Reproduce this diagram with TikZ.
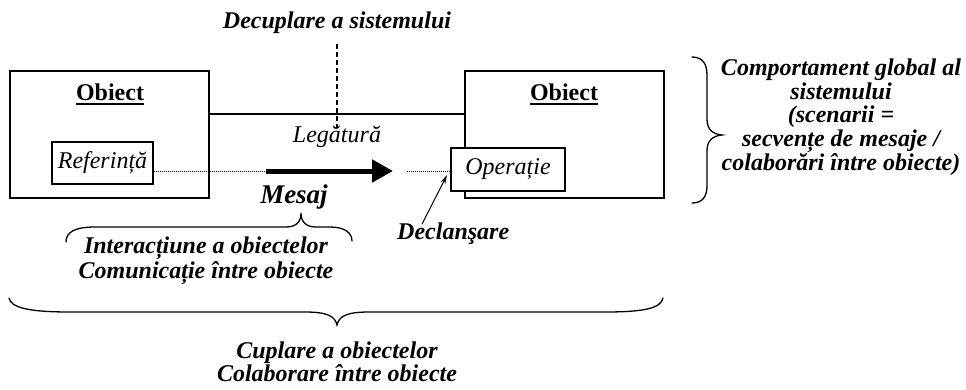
\documentclass[tikz,border=0pt]{standalone}
\usepackage{fontspec}
\setmainfont{Liberation Serif}
\usetikzlibrary{arrows.meta}
\begin{document}
\begin{tikzpicture}[x=1pt,y=-1pt,
  box/.style={draw, line width=1.4pt, inner sep=0pt},
  txt/.style={font=\fontsize{24}{24}\selectfont\itshape, inner sep=0pt},
  bt/.style={inner sep=0pt, align=center},
  title/.style={font=\fontsize{24}{24}\selectfont\bfseries, inner sep=0pt},
  dots/.style={line width=0.9pt, dash pattern=on 1pt off 1pt},
  sep/.style={line width=1.4pt, dash pattern=on 5pt off 3pt},
  brace/.style={line width=1.3pt, line cap=round}]
\useasboundingbox (0,0) rectangle (966,389);

% the two objects
\node[box, minimum width=199pt, minimum height=127pt] (objL) at (109.5,134.5) {};
\node[box, minimum width=199pt, minimum height=127pt] (objR) at (564.5,134.5) {};
\node[title, anchor=base] (tL) at (110,100) {Obiect};
\node[title, anchor=base] (tR) at (564,100) {Obiect};
\draw[line width=2pt] ([yshift=-4pt]tL.base west) -- ([yshift=-4pt]tL.base east);
\draw[line width=2pt] ([yshift=-4pt]tR.base west) -- ([yshift=-4pt]tR.base east);

% reference and operation
\node[box, fill=white, minimum width=101pt, minimum height=42pt, txt] (ref) at (102.5,163) {Referință};
\node[box, fill=white, minimum width=114pt, minimum height=43pt, txt] (op) at (508,169.5) {Operație};

% link between the objects
\coordinate (lk) at (337,114);
\draw[line width=1.2pt] (objL.east |- lk) -- (objR.west |- lk);

% decoupling of the system
\node[bt, font=\fontsize{24}{24}\selectfont\bfseries\itshape, anchor=base] (dec) at (337,28) {Decuplare a sistemului};
\node[txt, anchor=base] (leg) at (337,142) {Legătură};
\draw[sep] ([yshift=-11pt]dec.south) -- ([yshift=-3pt]leg.north);

% message
\coordinate (m1) at (266,171);
\coordinate (m2) at (393,171);
\coordinate (m3) at (407,171);
\draw[dots] (ref.east |- m1) -- (m1);
\draw[line width=5pt, -{Triangle[length=21pt,width=22pt]}] (m1) -- (m2);
\draw[dots] (m3) -- (op.west |- m3);
\node[font=\fontsize{27}{27}\selectfont\bfseries\itshape, inner sep=0pt, anchor=base] (msg) at (294,203) {Mesaj};

% trigger
\node[bt, font=\fontsize{24}{24}\selectfont\bfseries\itshape, anchor=base west] (decl) at (397,239) {Declanşare};
\coordinate (trig) at (447,175);
\draw[line width=1pt, -{Stealth[length=9pt,width=5pt]}] ([xshift=25pt,yshift=-2pt]decl.north west) -- (trig);

% braces
\draw[brace] (66,242) .. controls (66,232) and (75,227) .. (95,227) -- (286,227)
  .. controls (296,227) and (301,222) .. (301,213)
  .. controls (301,222) and (306,227) .. (316,227) -- (330,227)
  .. controls (345,227) and (352,233) .. (352,241);
\draw[brace] (9,298) .. controls (11,308) and (30,312) .. (70,312) -- (305,312)
  .. controls (327,312) and (335,316) .. (337,325)
  .. controls (339,316) and (347,312) .. (369,312) -- (605,312)
  .. controls (645,312) and (661,308) .. (663,298);
\draw[brace] (692,57) .. controls (702,57) and (707,63) .. (707,75) -- (707,119)
  .. controls (707,129) and (712,134) .. (722,135)
  .. controls (712,136) and (707,141) .. (707,151) -- (707,186)
  .. controls (707,197) and (702,203) .. (692,203);

% brace labels
\node[bt, font=\fontsize{24}{25}\selectfont\bfseries\itshape] (inter) at (206,261)
  {Interacțiune a obiectelor\\Comunicație între obiecte};
\node[bt, font=\fontsize{24}{23}\selectfont\bfseries\itshape] (cupl) at (337,362)
  {Cuplare a obiectelor\\Colaborare între obiecte};
\node[bt, font=\fontsize{24}{23.75}\selectfont\bfseries\itshape] (comp) at (841,117)
  {Comportament global al\\sistemului\\(scenarii =\\secvențe de mesaje /\\colaborări între obiecte)};
\end{tikzpicture}
\end{document}
